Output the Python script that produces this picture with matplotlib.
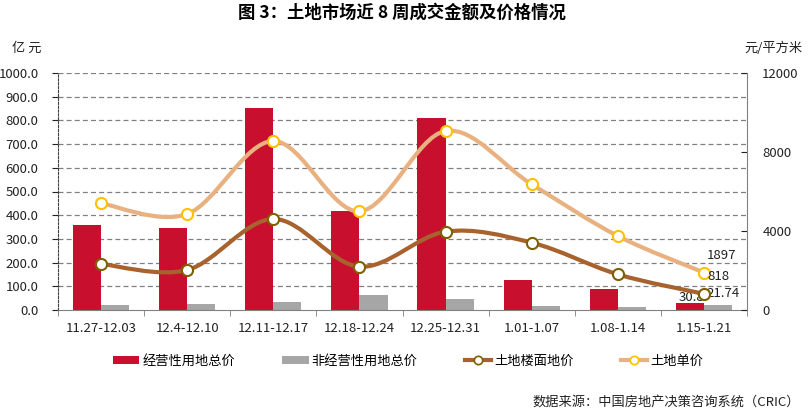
import matplotlib
matplotlib.use("Agg")
import matplotlib.pyplot as plt
from matplotlib.path import Path
from matplotlib.patches import PathPatch, Patch
from matplotlib.lines import Line2D
import numpy as np

plt.rcParams["font.family"] = ["Noto Sans CJK SC", "DejaVu Sans"]

WEEKS = ["11.27-12.03", "12.4-12.10", "12.11-12.17", "12.18-12.24",
         "12.25-12.31", "1.01-1.07", "1.08-1.14", "1.15-1.21"]
OPERATING_TOTAL = [358, 346, 854, 418, 809, 127, 89, 30.8]       # 亿元
NON_OPERATING_TOTAL = [21, 25, 35, 63, 46, 16, 13, 21.74]         # 亿元
FLOOR_PRICE = [2330, 2025, 4607, 2195, 3966, 3410, 1806, 818]    # 元/平方米
UNIT_PRICE = [5402, 4861, 8557, 4996, 9063, 6363, 3747, 1897]    # 元/平方米

RED = "#C8102E"
GRAY = "#A6A6A6"
BROWN = "#A8622D"
BROWN_EDGE = "#7F6000"
TAN = "#E9B17F"
TAN_EDGE = "#FFC000"


def smooth_path(xs, ys):
    """Excel-like smoothed line: Catmull-Rom segments drawn as cubic Beziers."""
    pts = list(zip(xs, ys))
    n = len(pts)
    verts = [pts[0]]
    codes = [Path.MOVETO]
    for i in range(n - 1):
        p0 = pts[max(i - 1, 0)]
        p1 = pts[i]
        p2 = pts[i + 1]
        p3 = pts[min(i + 2, n - 1)]
        c1 = (p1[0] + (p2[0] - p0[0]) / 6, p1[1] + (p2[1] - p0[1]) / 6)
        c2 = (p2[0] - (p3[0] - p1[0]) / 6, p2[1] - (p3[1] - p1[1]) / 6)
        verts += [c1, c2, p2]
        codes += [Path.CURVE4] * 3
    return Path(verts, codes)


def main() -> None:
    fig = plt.figure(figsize=(8.09, 4.17), dpi=100)
    ax = fig.add_axes([58 / 809, 107 / 417, 689 / 809, 237 / 417])
    x = np.arange(len(WEEKS))
    width = 0.326

    ax.bar(x - width / 2, OPERATING_TOTAL, width, color=RED, zorder=2)
    ax.bar(x + width / 2, NON_OPERATING_TOTAL, width, color=GRAY, zorder=2)

    ax.set_xlim(-0.5, len(WEEKS) - 0.5)
    ax.set_ylim(0, 1000)
    ax.set_yticks(np.arange(0, 1001, 100))
    ax.set_yticklabels([f"{v:.1f}" for v in np.arange(0, 1001, 100)])
    for v in np.arange(100, 1001, 100):
        ax.axhline(v, color="#808080", lw=0.9, ls=(0, (4, 2.5)), zorder=1)

    ax.set_xticks(x)
    ax.set_xticklabels(WEEKS)
    ax.set_xticks(np.arange(-0.5, len(WEEKS)), minor=True)
    ax.tick_params(axis="x", which="major", length=0, pad=9, labelsize=9.5,
                   colors="#222222")
    ax.tick_params(axis="x", which="minor", length=4, direction="out",
                   color="#808080")
    ax.tick_params(axis="y", length=4, direction="out", pad=10, labelsize=9.5,
                   colors="#222222")

    ax.spines["top"].set_visible(False)
    ax.spines["right"].set_visible(False)
    ax.spines["left"].set_linestyle((0, (2, 1.5)))
    ax.spines["left"].set_color("#404040")
    ax.spines["bottom"].set_color("#808080")

    ax2 = ax.twinx()
    ax2.set_ylim(0, 12000)
    ax2.set_yticks([0, 4000, 8000, 12000])
    ax2.tick_params(axis="y", length=4, direction="in", pad=11, labelsize=9.5,
                    colors="#222222")
    ax2.spines["right"].set_color("#808080")
    for side in ("top", "left", "bottom"):
        ax2.spines[side].set_visible(False)

    ax2.add_patch(PathPatch(smooth_path(x, UNIT_PRICE), fill=False,
                            edgecolor=TAN, lw=3, capstyle="round", zorder=3))
    ax2.add_patch(PathPatch(smooth_path(x, FLOOR_PRICE), fill=False,
                            edgecolor=BROWN, lw=3, capstyle="round", zorder=3))
    ax2.plot(x, UNIT_PRICE, "o", ms=8, mfc="white", mec=TAN_EDGE, mew=1.5, zorder=4)
    ax2.plot(x, FLOOR_PRICE, "o", ms=8, mfc="white", mec=BROWN_EDGE, mew=1.5, zorder=4)

    last = len(WEEKS) - 1
    label_kw = dict(textcoords="offset pixels", ha="center", va="center",
                    fontsize=9.5, color="#222222", zorder=5)
    ax2.annotate(f"{UNIT_PRICE[last]}", (x[last], UNIT_PRICE[last]),
                 xytext=(18, 17), **label_kw)
    ax2.annotate(f"{FLOOR_PRICE[last]}", (x[last], FLOOR_PRICE[last]),
                 xytext=(15, 17), **label_kw)
    ax.annotate(f"{OPERATING_TOTAL[last]}", (x[last] - width / 2, OPERATING_TOTAL[last]),
                xytext=(2, 5), **label_kw)
    ax.annotate(f"{NON_OPERATING_TOTAL[last]}", (x[last] + width / 2, NON_OPERATING_TOTAL[last]),
                xytext=(5, 11), **label_kw)

    fig.text(402 / 809, 1 - 13 / 417, "图 3：土地市场近 8 周成交金额及价格情况",
             ha="center", va="center", fontsize=12.5, fontweight="bold")
    fig.text(27 / 809, 1 - 48 / 417, "亿 元", ha="center", va="center",
             fontsize=9.5, color="#222222")
    fig.text(773 / 809, 1 - 48 / 417, "元/平方米", ha="center", va="center",
             fontsize=9.5, color="#222222")

    handles = [
        Patch(facecolor=RED, label="经营性用地总价"),
        Patch(facecolor=GRAY, label="非经营性用地总价"),
        Line2D([], [], color=BROWN, lw=3, marker="o", ms=6, mfc="white",
               mec=BROWN_EDGE, mew=1.2, label="土地楼面地价"),
        Line2D([], [], color=TAN, lw=3, marker="o", ms=6, mfc="white",
               mec=TAN_EDGE, mew=1.2, label="土地单价"),
    ]
    fig.legend(handles=handles, loc="center", bbox_to_anchor=(408 / 809, 1 - 361 / 417),
               ncol=4, frameon=False, fontsize=9.5, handlelength=2.0,
               handleheight=0.6, handletextpad=0.2, columnspacing=3.6)

    fig.text(800 / 809, 1 - 402 / 417, "数据来源：中国房地产决策咨询系统（CRIC）",
             ha="right", va="center", fontsize=9.5, color="#222222")

    fig.savefig("out.png", dpi=100)


if __name__ == "__main__":
    main()
